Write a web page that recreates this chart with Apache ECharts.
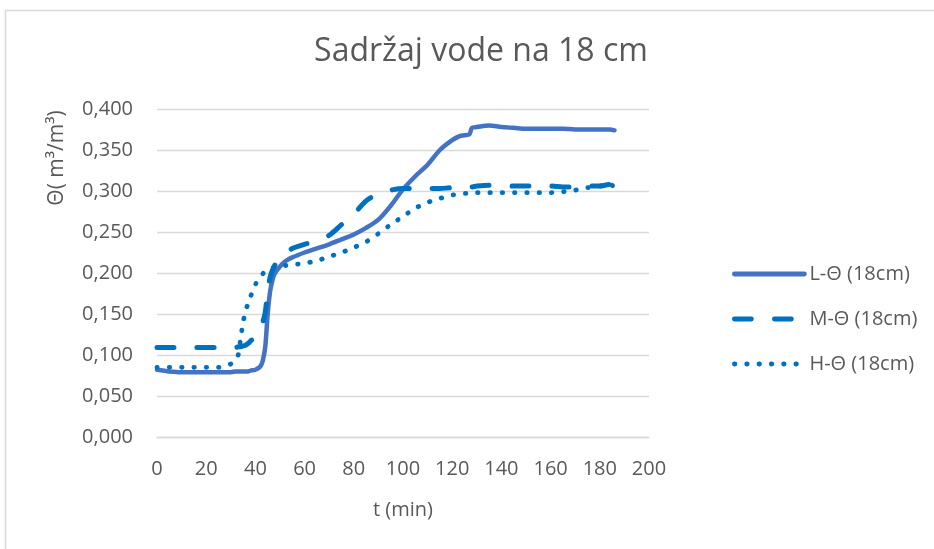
<!DOCTYPE html>
<html>
<head>
<meta charset="utf-8">
<script src="https://cdn.jsdelivr.net/npm/echarts@6/dist/echarts.min.js"></script>
<style>
html, body { margin: 0; padding: 0; background: #ffffff; }
#chart { width: 934px; height: 549px; }
</style>
</head>
<body>
<div id="chart"></div>
<script>
// time (min)
const timeMin = [0, 5, 10, 15, 20, 25, 28, 30, 32, 33, 34, 35, 36, 37, 38, 40, 42, 43, 44, 45, 46, 47, 48, 50, 52, 55, 60, 65, 70, 75, 80, 85, 90, 95, 100, 105, 110, 115, 120, 123, 125, 127, 128, 130, 135, 140, 145, 150, 155, 160, 165, 170, 175, 180, 184, 186];

const seriesL = [0.082, 0.080, 0.079, 0.079, 0.079, 0.079, 0.079, 0.079, 0.080, 0.080, 0.080, 0.080, 0.080, 0.080, 0.081, 0.082, 0.086, 0.093, 0.110, 0.150, 0.178, 0.192, 0.200, 0.208, 0.214, 0.219, 0.225, 0.230, 0.235, 0.241, 0.247, 0.255, 0.265, 0.282, 0.302, 0.318, 0.332, 0.350, 0.362, 0.367, 0.368, 0.369, 0.377, 0.378, 0.380, 0.378, 0.377, 0.376, 0.376, 0.376, 0.376, 0.375, 0.375, 0.375, 0.375, 0.374];

const seriesM = [0.109, 0.109, 0.109, 0.109, 0.109, 0.109, 0.109, 0.109, 0.109, 0.110, 0.110, 0.111, 0.112, 0.114, 0.117, 0.122, 0.132, 0.140, 0.152, 0.178, 0.195, 0.204, 0.210, 0.218, 0.223, 0.230, 0.235, 0.239, 0.246, 0.259, 0.272, 0.288, 0.297, 0.301, 0.303, 0.303, 0.303, 0.303, 0.304, 0.304, 0.304, 0.305, 0.305, 0.306, 0.307, 0.307, 0.306, 0.306, 0.306, 0.306, 0.305, 0.305, 0.306, 0.306, 0.308, 0.305];

const seriesH = [0.085, 0.085, 0.085, 0.085, 0.085, 0.085, 0.087, 0.089, 0.094, 0.100, 0.120, 0.140, 0.153, 0.163, 0.171, 0.186, 0.195, 0.199, 0.202, 0.204, 0.205, 0.206, 0.207, 0.208, 0.209, 0.210, 0.212, 0.215, 0.220, 0.225, 0.231, 0.238, 0.248, 0.259, 0.269, 0.279, 0.286, 0.291, 0.295, 0.296, 0.297, 0.297, 0.297, 0.298, 0.298, 0.298, 0.298, 0.298, 0.298, 0.298, 0.299, 0.301, 0.304, 0.306, 0.308, 0.305];

const seriesNames = ['L-Θ (18cm)', 'M-Θ (18cm)', 'H-Θ (18cm)'];
const xTicks = [0, 20, 40, 60, 80, 100, 120, 140, 160, 180, 200];
const yTicks = [0, 0.05, 0.10, 0.15, 0.20, 0.25, 0.30, 0.35, 0.40];

const titleText = 'Sadržaj vode na 18 cm';
const xName = 't (min)';
const yName = 'Θ( m³/m³)';

function pairs(vals) { return timeMin.map((t, i) => [t, vals[i]]); }

const FONT = '"Open Sans", "Noto Sans", sans-serif';
const TXT = '#595959';

const chart = echarts.init(document.getElementById('chart'), null, { renderer: 'canvas' });
chart.setOption({
  backgroundColor: '#ffffff',
  animation: false,
  title: {
    text: titleText,
    left: 476,
    top: 31,
    textAlign: 'center',
    textStyle: { fontFamily: FONT, fontSize: 32, fontWeight: 'normal', color: TXT }
  },
  graphic: [
    {
      type: 'rect',
      shape: { x: 5.5, y: 10.5, width: 1000, height: 700 },
      style: { fill: 'none', stroke: '#D9D9D9', lineWidth: 1.5 },
      silent: true
    },
    {
      type: 'text',
      x: 57, y: 158,
      rotation: Math.PI / 2,
      style: { text: yName, fontFamily: FONT, fontSize: 21, fill: TXT, align: 'center', verticalAlign: 'middle' }
    },
    {
      type: 'text',
      x: 403, y: 510,
      style: { text: xName, fontFamily: FONT, fontSize: 20, fill: TXT, align: 'center', verticalAlign: 'middle' }
    }
  ],
  legend: {
    orient: 'vertical',
    left: 727,
    top: 259,
    itemWidth: 70,
    itemHeight: 20,
    itemGap: 25,
    data: seriesNames,
    itemStyle: { opacity: 0 },
    lineStyle: { width: 4.8, cap: 'round' },
    textStyle: { fontFamily: FONT, fontSize: 20, color: TXT, lineHeight: 20 }
  },
  grid: { left: 157, top: 109, width: 492, height: 328, containLabel: false },
  xAxis: {
    type: 'value',
    min: 0, max: 200, interval: 20,
    axisLine: { show: true, lineStyle: { color: '#D9D9D9', width: 1.3 } },
    axisTick: { show: false },
    splitLine: { show: false },
    axisLabel: { fontFamily: FONT, fontSize: 20, color: TXT, margin: 22,
      formatter: v => xTicks.indexOf(v) >= 0 ? String(v) : '' }
  },
  yAxis: {
    type: 'value',
    min: 0, max: 0.4, interval: 0.05,
    axisLine: { show: false },
    axisTick: { show: false },
    splitLine: { show: true, lineStyle: { color: '#D9D9D9', width: 1.3 } },
    axisLabel: { fontFamily: FONT, fontSize: 20, color: TXT, margin: 24,
      formatter: v => v.toFixed(3).replace('.', ',') }
  },
  series: [
    {
      name: seriesNames[0], type: 'line', data: pairs(seriesL),
      symbol: 'none', smooth: 0.3,
      lineStyle: { color: '#4472C4', width: 4.5, cap: 'round', join: 'round' },
      itemStyle: { color: '#4472C4' }
    },
    {
      name: seriesNames[1], type: 'line', data: pairs(seriesM),
      symbol: 'none', smooth: 0.3,
      lineStyle: { color: '#0070C0', width: 5, type: [17, 23], cap: 'round', join: 'round' },
      itemStyle: { color: '#0070C0' }
    },
    {
      name: seriesNames[2], type: 'line', data: pairs(seriesH),
      symbol: 'none', smooth: 0.3,
      lineStyle: { color: '#0070C0', width: 4.8, type: [0.5, 11.8], cap: 'round', join: 'round' },
      itemStyle: { color: '#0070C0' }
    }
  ]
});
</script>
</body>
</html>
